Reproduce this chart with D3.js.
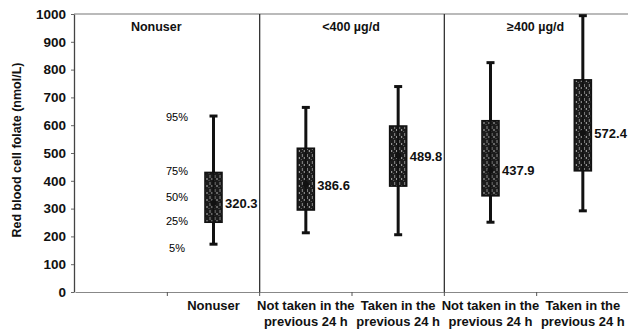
<!DOCTYPE html>
<html>
<head>
<meta charset="utf-8">
<script src="https://cdn.jsdelivr.net/npm/d3@7"></script>
<style>
body { margin: 0; background: #fff; }
text { font-family: "Liberation Sans", Arial, sans-serif; }
</style>
</head>
<body>
<div id="chart"></div>
<script>
var width = 628;
var height = 331;

// categories (first slot is empty)
var categories = ["blank", "nonuser", "lt_not", "lt_taken", "ge_not", "ge_taken"];
var catLabels = [[], ["Nonuser"], ["Not taken in the", "previous 24 h"], ["Taken in the", "previous 24 h"],
                 ["Not taken in the", "previous 24 h"], ["Taken in the", "previous 24 h"]];
var boxCats = ["nonuser", "lt_not", "lt_taken", "ge_not", "ge_taken"];
var p5 = [172, 213, 206, 251, 292];
var p25 = [251, 295, 381, 346, 436];
var p50 = [320.3, 386.6, 489.8, 437.9, 572.4];
var p75 = [430, 517, 597, 616, 763];
var p95 = [633, 664, 739, 825, 994];

var groupNames = ["Nonuser", "<400 \u00b5g/d", "\u2265400 \u00b5g/d"];
var groupSpan = [["blank", "nonuser"], ["lt_not", "lt_taken"], ["ge_not", "ge_taken"]];
var pctLabels = ["95%", "75%", "50%", "25%", "5%"];
var pctValues = [630, 435, 340, 255, 160];
var yTicks = [0, 100, 200, 300, 400, 500, 600, 700, 800, 900, 1000];

var margin = {left: 74, right: -1, top: 14, bottom: 39};

var svg = d3.select("#chart").append("svg")
	.attr("width", width)
	.attr("height", height);

var defs = svg.append("defs");
var pat = defs.append("pattern")
	.attr("id", "tex")
	.attr("width", 5).attr("height", 7)
	.attr("patternUnits", "userSpaceOnUse");
pat.append("rect").attr("width", 5).attr("height", 7).attr("fill", "#1c1c1c");
pat.append("rect").attr("x", 1).attr("y", 0).attr("width", 1).attr("height", 3).attr("fill", "#8a8a8a");
pat.append("rect").attr("x", 3).attr("y", 3).attr("width", 1).attr("height", 2).attr("fill", "#b0b0b0");
pat.append("rect").attr("x", 0).attr("y", 5).attr("width", 1).attr("height", 1).attr("fill", "#666");

var x = d3.scaleBand()
	.domain(categories)
	.range([margin.left + 1, width + 1])
	.padding(0);

var y = d3.scaleLinear()
	.domain([0, 1000])
	.range([height - margin.bottom, margin.top]);

// top frame line
svg.append("line")
	.attr("x1", margin.left).attr("x2", width)
	.attr("y1", y(1000)).attr("y2", y(1000))
	.attr("stroke", "#777").attr("stroke-width", 1.2);

// y axis
var yAxis = svg.append("g")
	.attr("transform", "translate(" + margin.left + ",0)")
	.call(d3.axisLeft(y).tickValues(yTicks).tickSize(3).tickSizeOuter(0).tickFormat(d3.format("d")));
yAxis.select(".domain").attr("stroke", "#444").attr("stroke-width", 1.3);
yAxis.selectAll(".tick line").attr("stroke", "#666");
yAxis.selectAll(".tick text")
	.attr("x", -8)
	.style("font-size", "13.5px")
	.style("font-weight", "bold")
	.attr("fill", "#111");

// x axis (boundary ticks)
var xAxis = svg.append("g")
	.attr("transform", "translate(0," + y(0) + ")")
	.call(d3.axisBottom(x).tickSize(0).tickFormat(""));
xAxis.select(".domain").attr("stroke", "#888").attr("stroke-width", 1.2);
xAxis.selectAll(".bnd")
	.data(categories.slice(1))
	.enter().append("line")
	.attr("class", "bnd")
	.attr("x1", function(d) { return x(d); })
	.attr("x2", function(d) { return x(d); })
	.attr("y1", 0).attr("y2", 4)
	.attr("stroke", "#555");

// category labels
categories.forEach(function(c, i) {
	var t = svg.append("text")
		.attr("x", x(c) + x.bandwidth() / 2)
		.attr("y", y(0) + 18)
		.attr("text-anchor", "middle")
		.style("font-size", "13px")
		.style("font-weight", "bold")
		.attr("fill", "#111");
	catLabels[i].forEach(function(line, k) {
		t.append("tspan")
			.attr("x", x(c) + x.bandwidth() / 2)
			.attr("dy", k === 0 ? 0 : 16)
			.text(line);
	});
});

// group separators
svg.selectAll(".sep")
	.data(["lt_not", "ge_not"])
	.enter().append("line")
	.attr("class", "sep")
	.attr("x1", function(d) { return x(d); })
	.attr("x2", function(d) { return x(d); })
	.attr("y1", y(1000)).attr("y2", y(0))
	.attr("stroke", "#333").attr("stroke-width", 1.3);

// group headers
svg.selectAll(".grp")
	.data(groupNames)
	.enter().append("text")
	.attr("class", "grp")
	.attr("x", function(d, i) {
		var a = x(groupSpan[i][0]), b = x(groupSpan[i][1]) + x.bandwidth();
		return i === 0 ? a + (b - a) * 0.44 : (a + b) / 2 - 1;
	})
	.attr("y", y(1000) + 17)
	.attr("text-anchor", "middle")
	.style("font-size", "12.5px")
	.style("font-weight", "bold")
	.attr("fill", "#111")
	.text(function(d) { return d; });

// y axis title
svg.append("text")
	.attr("transform", "translate(21," + (y(500) - 3) + ") rotate(-90)")
	.attr("text-anchor", "middle")
	.style("font-size", "12.5px")
	.style("font-weight", "bold")
	.attr("fill", "#111")
	.text("Red blood cell folate (nmol/L)");

// percentile legend
svg.selectAll(".pct")
	.data(pctLabels)
	.enter().append("text")
	.attr("class", "pct")
	.attr("x", 177)
	.attr("y", function(d, i) { return y(pctValues[i]) + 4; })
	.attr("text-anchor", "middle")
	.style("font-size", "11px")
	.attr("fill", "#000")
	.text(function(d) { return d; });

// boxes
var bw = 17;
var g = svg.selectAll(".box")
	.data(boxCats)
	.enter().append("g")
	.attr("class", "box")
	.attr("transform", function(d) { return "translate(" + (x(d) + x.bandwidth() / 2) + ",0)"; });

g.append("line")
	.attr("x1", 0).attr("x2", 0)
	.attr("y1", function(d, i) { return y(p5[i]); })
	.attr("y2", function(d, i) { return y(p95[i]); })
	.attr("stroke", "#111").attr("stroke-width", 3);
g.append("line")
	.attr("x1", -4).attr("x2", 4)
	.attr("y1", function(d, i) { return y(p95[i]); })
	.attr("y2", function(d, i) { return y(p95[i]); })
	.attr("stroke", "#111").attr("stroke-width", 3);
g.append("line")
	.attr("x1", -4).attr("x2", 4)
	.attr("y1", function(d, i) { return y(p5[i]); })
	.attr("y2", function(d, i) { return y(p5[i]); })
	.attr("stroke", "#111").attr("stroke-width", 3);
g.append("rect")
	.attr("x", -bw / 2)
	.attr("width", bw)
	.attr("y", function(d, i) { return y(p75[i]); })
	.attr("height", function(d, i) { return y(p25[i]) - y(p75[i]); })
	.attr("fill", "url(#tex)")
	.attr("stroke", "#111").attr("stroke-width", 1.6);
g.append("line")
	.attr("x1", 0).attr("x2", 0)
	.attr("y1", function(d, i) { return y(p25[i]); })
	.attr("y2", function(d, i) { return y(p75[i]); })
	.attr("stroke", "#111").attr("stroke-width", 2);
g.append("circle")
	.attr("cx", 0)
	.attr("cy", function(d, i) { return y(p50[i]); })
	.attr("r", 3)
	.attr("fill", "#111");
g.append("text")
	.attr("x", bw / 2 + 3)
	.attr("y", function(d, i) { return y(p50[i]) + 5; })
	.style("font-size", "13px")
	.style("font-weight", "bold")
	.attr("fill", "#111")
	.text(function(d, i) { return p50[i].toFixed(1); });
</script>
</body>
</html>
